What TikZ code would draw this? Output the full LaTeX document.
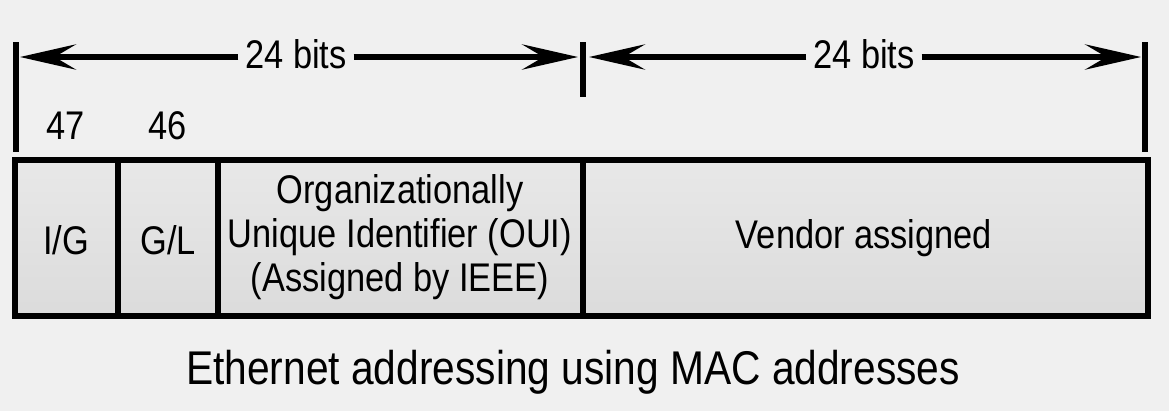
\documentclass[tikz,border=0pt]{standalone}
\usepackage{fontspec}
\setmainfont{Liberation Sans}[FakeStretch=0.86]
\usetikzlibrary{arrows.meta}
\begin{document}
\begin{tikzpicture}[x=0.75pt,y=-0.75pt,
  bar/.style={line width=4.5pt},
  arr/.style={line width=4.2pt,-{Stealth[length=42pt,width=19pt,inset=16pt]}},
  cell/.style={draw,line width=4pt,top color=gray!18,bottom color=gray!28},
  lbl/.style={font=\fontsize{30}{33}\selectfont,align=center},
  big/.style={font=\fontsize{30}{33}\selectfont},
  capt/.style={font=\fontsize{35.5}{38}\selectfont}]
\fill[gray!12] (0,0) rectangle (1169,411);
\useasboundingbox (0,0) rectangle (1169,411);
\draw[bar] (16,42) -- (16,152);
\draw[bar] (583,42) -- (583,97);
\draw[bar] (1145,42) -- (1145,152);
\node[big,fill=gray!12,inner sep=5pt] (t1) at (296,54) {24 bits};
\node[big,fill=gray!12,inner sep=5pt] (t2) at (864,54) {24 bits};
\coordinate (l1) at (20,57); \coordinate (r1) at (578,57);
\coordinate (l2) at (589,57); \coordinate (r2) at (1141,57);
\draw[arr] (t1.west|-l1) -- (l1);
\draw[arr] (t1.east|-l1) -- (r1);
\draw[arr] (t2.west|-l1) -- (l2);
\draw[arr] (t2.east|-l1) -- (r2);
\node[big] (n47) at (66,126) {47};
\node[big] (n46) at (168,126) {46};
\draw[cell] (15,160) rectangle (118,316);
\draw[cell] (118,160) rectangle (218,316);
\draw[cell] (218,160) rectangle (583,316);
\draw[cell] (583,160) rectangle (1148,316);
\node[lbl] (ig) at (66,240) {I/G};
\node[lbl] (gl) at (168,240) {G/L};
\node[lbl] (oui) at (400,237) {Organizationally\\Unique Identifier (OUI)\\(Assigned by IEEE)};
\node[lbl] (va) at (864,238) {Vendor assigned};
\node[capt] (cap) at (573,372) {Ethernet addressing using MAC addresses};
\end{tikzpicture}
\end{document}
